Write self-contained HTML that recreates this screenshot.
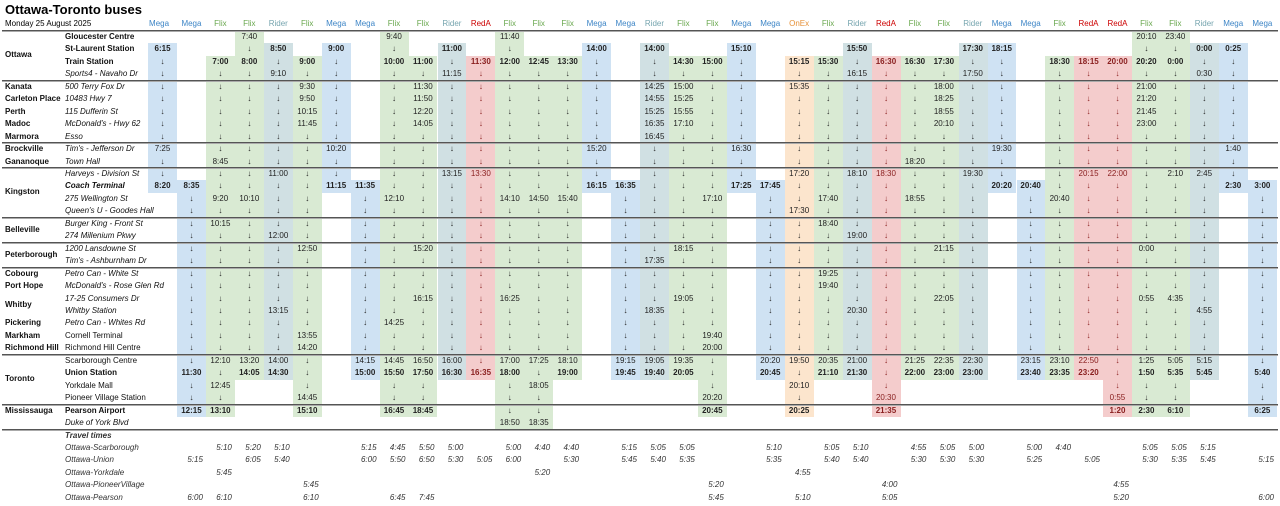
<!DOCTYPE html>
<html><head><meta charset="utf-8"><style>
body{margin:0;width:1280px;height:506px;background:#fff;font-family:"Liberation Sans",Arial,sans-serif;position:relative;overflow:hidden}
h1{position:absolute;left:5px;top:2px;margin:0;font-size:13px;line-height:15px;font-weight:bold;color:#000}
table{position:absolute;left:0;top:17px;border-collapse:collapse;table-layout:fixed;width:1277px;font-size:8px;z-index:2}
td{padding:0;height:12.45px;line-height:12.45px;text-align:center;white-space:nowrap;overflow:visible;color:#222}
tr.h td{height:14px;line-height:14px}
tr.b td{font-weight:bold}
td:first-child{text-align:left;padding-left:5px;font-weight:bold;color:#111}
td:nth-child(2){text-align:left;padding-left:1px;color:#111}
.sb{font-weight:bold}.si{font-style:italic;font-weight:normal!important}.sbi{font-weight:bold;font-style:italic}.sn{font-weight:normal!important}
tr.b td.si{font-weight:normal}
.d{position:relative;top:6px}
tr.t td{font-style:italic;color:#333;text-align:right;padding-right:3px}
tr.t td:first-child,tr.t td:nth-child(2){text-align:left;padding-right:0}
tr td:nth-child(14),tr td:nth-child(28),tr td:nth-child(35),tr td:nth-child(36){color:#8a2020}
tr.t td:nth-child(14),tr.t td:nth-child(28),tr.t td:nth-child(35),tr.t td:nth-child(36){color:#333}
.M{color:#3d85c6!important}.F{color:#6aa84f!important}.R{color:#76a5af!important}.A{color:#cc0000!important}.O{color:#e69138!important}
tr.h td{font-weight:normal}
.bg{position:absolute;width:28.95px;z-index:1}
.m{background:#cfe2f3}.f{background:#d9ead3}.r{background:#d0e0e3}.a{background:#f4cccc}.o{background:#fce5cd}
.ln{position:absolute;left:2px;width:1276px;height:1px;background:#555;border-bottom:1px solid #aaa;z-index:3}
</style></head><body>
<h1>Ottawa-Toronto buses</h1>

<div class="bg m" style="left:148px;top:43.45px;height:149.4px"></div>
<div class="bg m" style="left:176.95px;top:180.4px;height:236.6px"></div>
<div class="bg f" style="left:205.9px;top:55.9px;height:361.1px"></div>
<div class="bg f" style="left:234.85px;top:31px;height:348.6px"></div>
<div class="bg r" style="left:263.8px;top:43.45px;height:336.15px"></div>
<div class="bg f" style="left:292.75px;top:55.9px;height:361.1px"></div>
<div class="bg m" style="left:321.7px;top:43.45px;height:149.4px"></div>
<div class="bg m" style="left:350.65px;top:180.4px;height:199.2px"></div>
<div class="bg f" style="left:379.6px;top:31px;height:386px"></div>
<div class="bg f" style="left:408.55px;top:55.9px;height:361.1px"></div>
<div class="bg r" style="left:437.5px;top:43.45px;height:336.15px"></div>
<div class="bg a" style="left:466.45px;top:55.9px;height:323.7px"></div>
<div class="bg f" style="left:495.4px;top:31px;height:398.4px"></div>
<div class="bg f" style="left:524.35px;top:55.9px;height:373.5px"></div>
<div class="bg f" style="left:553.3px;top:55.9px;height:323.7px"></div>
<div class="bg m" style="left:582.25px;top:43.45px;height:149.4px"></div>
<div class="bg m" style="left:611.2px;top:180.4px;height:199.2px"></div>
<div class="bg r" style="left:640.15px;top:43.45px;height:336.15px"></div>
<div class="bg f" style="left:669.1px;top:55.9px;height:323.7px"></div>
<div class="bg f" style="left:698.05px;top:55.9px;height:361.1px"></div>
<div class="bg m" style="left:727px;top:43.45px;height:149.4px"></div>
<div class="bg m" style="left:755.95px;top:180.4px;height:199.2px"></div>
<div class="bg o" style="left:784.9px;top:55.9px;height:361.1px"></div>
<div class="bg f" style="left:813.85px;top:55.9px;height:323.7px"></div>
<div class="bg r" style="left:842.8px;top:43.45px;height:336.15px"></div>
<div class="bg a" style="left:871.75px;top:55.9px;height:361.1px"></div>
<div class="bg f" style="left:900.7px;top:55.9px;height:323.7px"></div>
<div class="bg f" style="left:929.65px;top:55.9px;height:323.7px"></div>
<div class="bg r" style="left:958.6px;top:43.45px;height:336.15px"></div>
<div class="bg m" style="left:987.55px;top:43.45px;height:149.4px"></div>
<div class="bg m" style="left:1016.5px;top:180.4px;height:199.2px"></div>
<div class="bg f" style="left:1045.45px;top:55.9px;height:323.7px"></div>
<div class="bg a" style="left:1074.4px;top:55.9px;height:323.7px"></div>
<div class="bg a" style="left:1103.35px;top:55.9px;height:361.1px"></div>
<div class="bg f" style="left:1132.3px;top:31px;height:386px"></div>
<div class="bg f" style="left:1161.25px;top:31px;height:386px"></div>
<div class="bg r" style="left:1190.2px;top:43.45px;height:336.15px"></div>
<div class="bg m" style="left:1219.15px;top:43.45px;height:149.4px"></div>
<div class="bg m" style="left:1248.1px;top:180.4px;height:236.6px"></div>

<div class="ln" style="top:30px"></div>
<div class="ln" style="top:80px"></div>
<div class="ln" style="top:142px"></div>
<div class="ln" style="top:167px"></div>
<div class="ln" style="top:217px"></div>
<div class="ln" style="top:241.5px"></div>
<div class="ln" style="top:266.5px"></div>
<div class="ln" style="top:354px"></div>
<div class="ln" style="top:403.5px"></div>
<div class="ln" style="top:428.5px"></div>

<table>
<colgroup><col style="width:64px"><col style="width:84px">
<col span="39" style="width:28.95px"></colgroup>
<tr class="h"><td colspan="2" style="font-weight:normal;color:#000">Monday 25 August 2025<td class=M>Mega<td class=M>Mega<td class=F>Flix<td class=F>Flix<td class=R>Rider<td class=F>Flix<td class=M>Mega<td class=M>Mega<td class=F>Flix<td class=F>Flix<td class=R>Rider<td class=A>RedA<td class=F>Flix<td class=F>Flix<td class=F>Flix<td class=M>Mega<td class=M>Mega<td class=R>Rider<td class=F>Flix<td class=F>Flix<td class=M>Mega<td class=M>Mega<td class=O>OnEx<td class=F>Flix<td class=R>Rider<td class=A>RedA<td class=F>Flix<td class=F>Flix<td class=R>Rider<td class=M>Mega<td class=M>Mega<td class=F>Flix<td class=A>RedA<td class=A>RedA<td class=F>Flix<td class=F>Flix<td class=R>Rider<td class=M>Mega<td class=M>Mega
<tr><td><td class=sb>Gloucester Centre<td><td><td><td>7:40<td><td><td><td><td>9:40<td> <td><td><td>11:40<td><td><td><td><td><td><td><td> <td><td><td><td><td><td><td><td><td><td> <td><td><td><td>20:10<td>23:40<td><td><td>
<tr class=b><td><span class=d>Ottawa</span><td class=sb>St-Laurent Station<td>6:15<td><td><td>↓<td>8:50<td><td>9:00<td><td>↓<td> <td>11:00<td><td>↓<td><td><td>14:00<td><td>14:00<td><td> <td>15:10<td><td><td><td>15:50<td><td><td><td>17:30<td>18:15 <td><td><td><td><td>↓<td>↓<td>0:00<td>0:25<td>
<tr class=b><td><td class=sb>Train Station<td>↓<td><td>7:00<td>8:00<td>↓<td>9:00<td>↓<td><td>10:00<td>11:00 <td>↓<td>11:30<td>12:00<td>12:45<td>13:30<td>↓<td><td>↓<td>14:30<td>15:00 <td>↓<td><td>15:15<td>15:30<td>↓<td>16:30<td>16:30<td>17:30<td>↓<td>↓ <td><td>18:30<td>18:15<td>20:00<td>20:20<td>0:00<td>↓<td>↓<td>
<tr><td><td class=si>Sports4 - Navaho Dr<td>↓<td><td>↓<td>↓<td>9:10<td>↓<td>↓<td><td>↓<td>↓ <td>11:15<td>↓<td>↓<td>↓<td>↓<td>↓<td><td>↓<td>↓<td>↓ <td>↓<td><td>↓<td>↓<td>16:15<td>↓<td>↓<td>↓<td>17:50<td>↓ <td><td>↓<td>↓<td>↓<td>↓<td>↓<td>0:30<td>↓<td>
<tr><td>Kanata<td class=si>500 Terry Fox Dr<td>↓<td><td>↓<td>↓<td>↓<td>9:30<td>↓<td><td>↓<td>11:30 <td>↓<td>↓<td>↓<td>↓<td>↓<td>↓<td><td>14:25<td>15:00<td>↓ <td>↓<td><td>15:35<td>↓<td>↓<td>↓<td>↓<td>18:00<td>↓<td>↓ <td><td>↓<td>↓<td>↓<td>21:00<td>↓<td>↓<td>↓<td>
<tr><td>Carleton Place<td class=si>10483 Hwy 7<td>↓<td><td>↓<td>↓<td>↓<td>9:50<td>↓<td><td>↓<td>11:50 <td>↓<td>↓<td>↓<td>↓<td>↓<td>↓<td><td>14:55<td>15:25<td>↓ <td>↓<td><td>↓<td>↓<td>↓<td>↓<td>↓<td>18:25<td>↓<td>↓ <td><td>↓<td>↓<td>↓<td>21:20<td>↓<td>↓<td>↓<td>
<tr><td>Perth<td class=si>115 Dufferin St<td>↓<td><td>↓<td>↓<td>↓<td>10:15<td>↓<td><td>↓<td>12:20 <td>↓<td>↓<td>↓<td>↓<td>↓<td>↓<td><td>15:25<td>15:55<td>↓ <td>↓<td><td>↓<td>↓<td>↓<td>↓<td>↓<td>18:55<td>↓<td>↓ <td><td>↓<td>↓<td>↓<td>21:45<td>↓<td>↓<td>↓<td>
<tr><td>Madoc<td class=si>McDonald's - Hwy 62<td>↓<td><td>↓<td>↓<td>↓<td>11:45<td>↓<td><td>↓<td>14:05 <td>↓<td>↓<td>↓<td>↓<td>↓<td>↓<td><td>16:35<td>17:10<td>↓ <td>↓<td><td>↓<td>↓<td>↓<td>↓<td>↓<td>20:10<td>↓<td>↓ <td><td>↓<td>↓<td>↓<td>23:00<td>↓<td>↓<td>↓<td>
<tr><td>Marmora<td class=si>Esso<td>↓<td><td>↓<td>↓<td>↓<td>↓<td>↓<td><td>↓<td>↓ <td>↓<td>↓<td>↓<td>↓<td>↓<td>↓<td><td>16:45<td>↓<td>↓ <td>↓<td><td>↓<td>↓<td>↓<td>↓<td>↓<td>↓<td>↓<td>↓ <td><td>↓<td>↓<td>↓<td>↓<td>↓<td>↓<td>↓<td>
<tr><td>Brockville<td class=si>Tim's - Jefferson Dr<td>7:25<td><td>↓<td>↓<td>↓<td>↓<td>10:20<td><td>↓<td>↓ <td>↓<td>↓<td>↓<td>↓<td>↓<td>15:20<td><td>↓<td>↓<td>↓ <td>16:30<td><td>↓<td>↓<td>↓<td>↓<td>↓<td>↓<td>↓<td>19:30 <td><td>↓<td>↓<td>↓<td>↓<td>↓<td>↓<td>1:40<td>
<tr><td>Gananoque<td class=si>Town Hall<td>↓<td><td>8:45<td>↓<td>↓<td>↓<td>↓<td><td>↓<td>↓ <td>↓<td>↓<td>↓<td>↓<td>↓<td>↓<td><td>↓<td>↓<td>↓ <td>↓<td><td>↓<td>↓<td>↓<td>↓<td>18:20<td>↓<td>↓<td>↓ <td><td>↓<td>↓<td>↓<td>↓<td>↓<td>↓<td>↓<td>
<tr><td><td class=si>Harveys - Division St<td>↓<td><td>↓<td>↓<td>11:00<td>↓<td>↓<td><td>↓<td>↓ <td>13:15<td>13:30<td>↓<td>↓<td>↓<td>↓<td><td>↓<td>↓<td>↓ <td>↓<td><td>17:20<td>↓<td>18:10<td>18:30<td>↓<td>↓<td>19:30<td>↓ <td><td>↓<td>20:15<td>22:00<td>↓<td>2:10<td>2:45<td>↓<td>
<tr class=b><td><span class=d>Kingston</span><td class=sbi>Coach Terminal<td>8:20<td>8:35<td>↓<td>↓<td>↓<td>↓<td>11:15<td>11:35<td>↓<td>↓ <td>↓<td>↓<td>↓<td>↓<td>↓<td>16:15<td>16:35<td>↓<td>↓<td>↓ <td>17:25<td>17:45<td>↓<td>↓<td>↓<td>↓<td>↓<td>↓<td>↓<td>20:20 <td>20:40<td>↓<td>↓<td>↓<td>↓<td>↓<td>↓<td>2:30<td>3:00
<tr><td><td class=si>275 Wellington St<td><td>↓<td>9:20<td>10:10<td>↓<td>↓<td><td>↓<td>12:10<td>↓ <td>↓<td>↓<td>14:10<td>14:50<td>15:40<td><td>↓<td>↓<td>↓<td>17:10 <td><td>↓<td>↓<td>17:40<td>↓<td>↓<td>18:55<td>↓<td>↓<td> <td>↓<td>20:40<td>↓<td>↓<td>↓<td>↓<td>↓<td><td>↓
<tr><td><td class=si>Queen's U - Goodes Hall<td><td>↓<td>↓<td>↓<td>↓<td>↓<td><td>↓<td>↓<td>↓ <td>↓<td>↓<td>↓<td>↓<td>↓<td><td>↓<td>↓<td>↓<td>↓ <td><td>↓<td>17:30<td>↓<td>↓<td>↓<td>↓<td>↓<td>↓<td> <td>↓<td>↓<td>↓<td>↓<td>↓<td>↓<td>↓<td><td>↓
<tr><td><span class=d>Belleville</span><td class=si>Burger King - Front St<td><td>↓<td>10:15<td>↓<td>↓<td>↓<td><td>↓<td>↓<td>↓ <td>↓<td>↓<td>↓<td>↓<td>↓<td><td>↓<td>↓<td>↓<td>↓ <td><td>↓<td>↓<td>18:40<td>↓<td>↓<td>↓<td>↓<td>↓<td> <td>↓<td>↓<td>↓<td>↓<td>↓<td>↓<td>↓<td><td>↓
<tr><td><td class=si>274 Millenium Pkwy<td><td>↓<td>↓<td>↓<td>12:00<td>↓<td><td>↓<td>↓<td>↓ <td>↓<td>↓<td>↓<td>↓<td>↓<td><td>↓<td>↓<td>↓<td>↓ <td><td>↓<td>↓<td>↓<td>19:00<td>↓<td>↓<td>↓<td>↓<td> <td>↓<td>↓<td>↓<td>↓<td>↓<td>↓<td>↓<td><td>↓
<tr><td><span class=d>Peterborough</span><td class=si>1200 Lansdowne St<td><td>↓<td>↓<td>↓<td>↓<td>12:50<td><td>↓<td>↓<td>15:20 <td>↓<td>↓<td>↓<td>↓<td>↓<td><td>↓<td>↓<td>18:15<td>↓ <td><td>↓<td>↓<td>↓<td>↓<td>↓<td>↓<td>21:15<td>↓<td> <td>↓<td>↓<td>↓<td>↓<td>0:00<td>↓<td>↓<td><td>↓
<tr><td><td class=si>Tim's - Ashburnham Dr<td><td>↓<td>↓<td>↓<td>↓<td>↓<td><td>↓<td>↓<td>↓ <td>↓<td>↓<td>↓<td>↓<td>↓<td><td>↓<td>17:35<td>↓<td>↓ <td><td>↓<td>↓<td>↓<td>↓<td>↓<td>↓<td>↓<td>↓<td> <td>↓<td>↓<td>↓<td>↓<td>↓<td>↓<td>↓<td><td>↓
<tr><td>Cobourg<td class=si>Petro Can - White St<td><td>↓<td>↓<td>↓<td>↓<td>↓<td><td>↓<td>↓<td>↓ <td>↓<td>↓<td>↓<td>↓<td>↓<td><td>↓<td>↓<td>↓<td>↓ <td><td>↓<td>↓<td>19:25<td>↓<td>↓<td>↓<td>↓<td>↓<td> <td>↓<td>↓<td>↓<td>↓<td>↓<td>↓<td>↓<td><td>↓
<tr><td>Port Hope<td class=si>McDonald's - Rose Glen Rd<td><td>↓<td>↓<td>↓<td>↓<td>↓<td><td>↓<td>↓<td>↓ <td>↓<td>↓<td>↓<td>↓<td>↓<td><td>↓<td>↓<td>↓<td>↓ <td><td>↓<td>↓<td>19:40<td>↓<td>↓<td>↓<td>↓<td>↓<td> <td>↓<td>↓<td>↓<td>↓<td>↓<td>↓<td>↓<td><td>↓
<tr><td><span class=d>Whitby</span><td class=si>17-25 Consumers Dr<td><td>↓<td>↓<td>↓<td>↓<td>↓<td><td>↓<td>↓<td>16:15 <td>↓<td>↓<td>16:25<td>↓<td>↓<td><td>↓<td>↓<td>19:05<td>↓ <td><td>↓<td>↓<td>↓<td>↓<td>↓<td>↓<td>22:05<td>↓<td> <td>↓<td>↓<td>↓<td>↓<td>0:55<td>4:35<td>↓<td><td>↓
<tr><td><td class=si>Whitby Station<td><td>↓<td>↓<td>↓<td>13:15<td>↓<td><td>↓<td>↓<td>↓ <td>↓<td>↓<td>↓<td>↓<td>↓<td><td>↓<td>18:35<td>↓<td>↓ <td><td>↓<td>↓<td>↓<td>20:30<td>↓<td>↓<td>↓<td>↓<td> <td>↓<td>↓<td>↓<td>↓<td>↓<td>↓<td>4:55<td><td>↓
<tr><td>Pickering<td class=si>Petro Can - Whites Rd<td><td>↓<td>↓<td>↓<td>↓<td>↓<td><td>↓<td>14:25<td>↓ <td>↓<td>↓<td>↓<td>↓<td>↓<td><td>↓<td>↓<td>↓<td>↓ <td><td>↓<td>↓<td>↓<td>↓<td>↓<td>↓<td>↓<td>↓<td> <td>↓<td>↓<td>↓<td>↓<td>↓<td>↓<td>↓<td><td>↓
<tr><td>Markham<td class=sn>Cornell Terminal<td><td>↓<td>↓<td>↓<td>↓<td>13:55<td><td>↓<td>↓<td>↓ <td>↓<td>↓<td>↓<td>↓<td>↓<td><td>↓<td>↓<td>↓<td>19:40 <td><td>↓<td>↓<td>↓<td>↓<td>↓<td>↓<td>↓<td>↓<td> <td>↓<td>↓<td>↓<td>↓<td>↓<td>↓<td>↓<td><td>↓
<tr><td>Richmond Hill<td class=sn>Richmond Hill Centre<td><td>↓<td>↓<td>↓<td>↓<td>14:20<td><td>↓<td>↓<td>↓ <td>↓<td>↓<td>↓<td>↓<td>↓<td><td>↓<td>↓<td>↓<td>20:00 <td><td>↓<td>↓<td>↓<td>↓<td>↓<td>↓<td>↓<td>↓<td> <td>↓<td>↓<td>↓<td>↓<td>↓<td>↓<td>↓<td><td>↓
<tr><td><td class=sn>Scarborough Centre<td><td>↓<td>12:10<td>13:20<td>14:00<td>↓<td><td>14:15<td>14:45<td>16:50 <td>16:00<td>↓<td>17:00<td>17:25<td>18:10<td><td>19:15<td>19:05<td>19:35<td>↓ <td><td>20:20<td>19:50<td>20:35<td>21:00<td>↓<td>21:25<td>22:35<td>22:30<td> <td>23:15<td>23:10<td>22:50<td>↓<td>1:25<td>5:05<td>5:15<td><td>↓
<tr class=b><td><span class=d>Toronto</span><td class=sb>Union Station<td><td>11:30<td>↓<td>14:05<td>14:30<td>↓<td><td>15:00<td>15:50<td>17:50 <td>16:30<td>16:35<td>18:00<td>↓<td>19:00<td><td>19:45<td>19:40<td>20:05<td>↓ <td><td>20:45<td>↓<td>21:10<td>21:30<td>↓<td>22:00<td>23:00<td>23:00<td> <td>23:40<td>23:35<td>23:20<td>↓<td>1:50<td>5:35<td>5:45<td><td>5:40
<tr><td><td class=sn>Yorkdale Mall<td><td>↓<td>12:45<td><td><td>↓<td><td><td>↓<td>↓ <td><td><td>↓<td>18:05<td><td><td><td><td><td>↓ <td><td><td>20:10<td><td><td>↓<td><td><td><td> <td><td><td><td>↓<td>↓<td>↓<td><td><td>↓
<tr><td><td class=sn>Pioneer Village Station<td><td>↓<td>↓<td><td><td>14:45<td><td><td>↓<td>↓ <td><td><td>↓<td>↓<td><td><td><td><td><td>20:20 <td><td><td>↓<td><td><td>20:30<td><td><td><td> <td><td><td><td>0:55<td>↓<td>↓<td><td><td>↓
<tr class=b><td>Mississauga<td class=sb>Pearson Airport<td><td>12:15<td>13:10<td><td><td>15:10<td><td><td>16:45<td>18:45 <td><td><td>↓<td>↓<td><td><td><td><td><td>20:45 <td><td><td>20:25<td><td><td>21:35<td><td><td><td> <td><td><td><td>1:20<td>2:30<td>6:10<td><td><td>6:25
<tr><td><td class=si>Duke of York Blvd<td><td><td><td><td><td><td><td><td><td> <td><td><td>18:50<td>18:35<td><td><td><td><td><td> <td><td><td><td><td><td><td><td><td><td> <td><td><td><td><td><td><td><td><td>
<tr class=t><td><td class=sbi>Travel times<td><td><td><td><td><td><td><td><td><td> <td><td><td><td><td><td><td><td><td><td> <td><td><td><td><td><td><td><td><td><td> <td><td><td><td><td><td><td><td><td>
<tr class=t><td><td>Ottawa-Scarborough<td><td><td>5:10<td>5:20<td>5:10<td><td><td>5:15<td>4:45<td>5:50 <td>5:00<td><td>5:00<td>4:40<td>4:40<td><td>5:15<td>5:05<td>5:05<td> <td><td>5:10<td><td>5:05<td>5:10<td><td>4:55<td>5:05<td>5:00<td> <td>5:00<td>4:40<td><td><td>5:05<td>5:05<td>5:15<td><td>
<tr class=t><td><td>Ottawa-Union<td><td>5:15<td><td>6:05<td>5:40<td><td><td>6:00<td>5:50<td>6:50 <td>5:30<td>5:05<td>6:00<td><td>5:30<td><td>5:45<td>5:40<td>5:35<td> <td><td>5:35<td><td>5:40<td>5:40<td><td>5:30<td>5:30<td>5:30<td> <td>5:25<td><td>5:05<td><td>5:30<td>5:35<td>5:45<td><td>5:15
<tr class=t><td><td>Ottawa-Yorkdale<td><td><td>5:45<td><td><td><td><td><td><td> <td><td><td><td>5:20<td><td><td><td><td><td> <td><td><td>4:55<td><td><td><td><td><td><td> <td><td><td><td><td><td><td><td><td>
<tr class=t><td><td>Ottawa-PioneerVillage<td><td><td><td><td><td>5:45<td><td><td><td> <td><td><td><td><td><td><td><td><td><td>5:20 <td><td><td><td><td><td>4:00<td><td><td><td> <td><td><td><td>4:55<td><td><td><td><td>
<tr class=t><td><td>Ottawa-Pearson<td><td>6:00<td>6:10<td><td><td>6:10<td><td><td>6:45<td>7:45 <td><td><td><td><td><td><td><td><td><td>5:45 <td><td><td>5:10<td><td><td>5:05<td><td><td><td> <td><td><td><td>5:20<td><td><td><td><td>6:00
</table>
</body></html>
